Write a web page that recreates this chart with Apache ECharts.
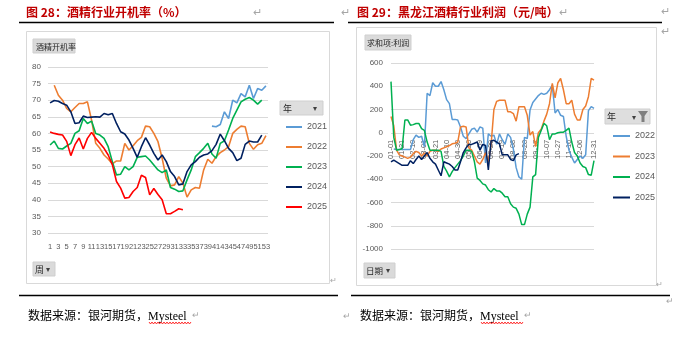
<!DOCTYPE html>
<html><head><meta charset="utf-8">
<script src="https://cdn.jsdelivr.net/npm/echarts@6/dist/echarts.min.js"></script>
<style>html,body{margin:0;padding:0;background:#fff;}#c{width:688px;height:343px;}</style>
</head><body><div id="c"></div>
<script>
// ---------- Left chart: 酒精行业开机率 (%) ----------
const weeks = ['1','2','3','4','5','6','7','8','9','10','11','12','13','14','15','16','17','18','19','20',
  '21','22','23','24','25','26','27','28','29','30','31','32','33','34','35','36','37','38','39','40',
  '41','42','43','44','45','46','47','48','49','50','51','52','53'];
const leftYears = ['2021','2022','2023','2024','2025'];
const rate2021 = [null,null,null,null,null,null,null,null,null,null,
  null,null,null,null,null,null,null,null,null,null,
  null,null,null,null,null,null,null,null,null,null,
  null,null,null,null,null,null,null,null,null,
  62.2,62.0,62.7,66.5,64.5,70.0,69.2,72.0,71.0,74.5,70.5,73.5,73.0,74.3];
const rate2022 = [null,74.5,71.5,70.0,67.5,66.5,67.8,69.0,69.0,69.5,
  64.0,57.0,55.5,53.5,52.3,50.8,51.7,51.7,57.0,55.0,
  56.3,57.8,58.8,62.2,62.0,60.0,57.5,52.5,46.5,44.2,
  44.5,47.0,45.0,40.8,43.0,43.7,43.5,49.0,52.2,51.0,
  53.0,54.2,55.0,56.0,60.0,61.2,62.2,62.0,57.0,55.2,
  56.6,57.0,59.3];
const rate2023 = [56.5,57.7,55.5,55.3,56.2,57.0,60.0,60.8,64.5,63.0,
  63.7,60.0,59.5,58.5,56.0,51.5,47.5,47.7,50.0,49.0,
  50.0,52.8,53.0,53.2,52.0,50.5,49.0,48.2,49.0,43.7,
  43.2,42.5,42.7,46.0,49.0,53.0,54.2,55.5,57.0,53.8,
  52.5,57.0,57.8,61.0,64.5,67.0,69.5,70.3,70.8,70.0,
  68.8,70.0,null];
const rate2024 = [69.2,69.9,69.7,69.0,68.5,66.5,63.0,63.2,65.2,64.8,
  64.9,65.0,64.9,66.0,65.6,66.0,63.0,60.5,59.8,58.0,
  55.5,52.8,56.0,58.7,56.5,54.0,52.0,53.5,51.5,48.5,
  47.0,44.5,44.8,48.5,50.5,51.5,52.8,53.5,53.8,54.8,
  56.7,59.8,57.8,55.5,54.2,51.8,52.5,56.7,57.7,57.4,
  57.4,59.5,null];
const rate2025 = [60.4,60.0,59.7,59.5,57.6,53.3,56.6,58.6,55.3,58.5,
  60.3,58.5,57.0,55.5,53.5,50.6,45.5,43.5,40.5,40.7,
  42.5,43.7,47.4,46.7,41.5,43.4,41.6,40.0,35.8,35.8,
  36.5,37.3,37.0,null,null,null,null,null,null,null,
  null,null,null,null,null,null,null,null,null,null,
  null,null,null];
const rateTicks = [30, 80, 5]; // min, max, step

// ---------- Right chart: 黑龙江酒精行业利润 (元/吨) ----------
const dates = ['01-01','01-06','01-11','01-16','01-21','01-26','01-31',
  '02-05','02-10','02-15','02-20','02-25',
  '03-01','03-06','03-11','03-16','03-21','03-26','03-31',
  '04-05','04-10','04-15','04-20','04-25','04-30',
  '05-05','05-10','05-15','05-20','05-25','05-30',
  '06-04','06-09','06-14','06-19','06-24','06-29',
  '07-04','07-09','07-14','07-19','07-24','07-29',
  '08-03','08-08','08-13','08-18','08-23','08-28',
  '09-02','09-07','09-12','09-17','09-22','09-27',
  '10-02','10-07','10-12','10-17','10-22','10-27',
  '11-01','11-06','11-11','11-16','11-21','11-26',
  '12-01','12-06','12-11','12-16','12-21','12-26','12-31'];
const rightYears = ['2022','2023','2024','2025'];
const profit2022 = [null,-140,-145,-145,-145,-145,-145,-145,-60,-20,
  -40,-30,-120,340,320,430,400,400,440,370,
  285,250,115,115,110,50,-30,-50,-10,30,
  40,5,50,40,-260,-10,-30,-20,-100,-10,
  -60,-100,-10,-40,-140,-300,-380,-400,-40,-50,
  195,260,290,320,340,330,340,370,410,170,
  200,150,140,-30,-150,-210,-260,-230,-200,-220,
  -190,190,225,210];
const profit2023 = [140,60,-150,-190,-200,-210,-220,-210,-180,-160,
  -170,-200,-175,-200,-160,-150,-150,-160,-140,-130,
  -120,-110,-95,-90,-80,50,55,50,-130,-150,
  -200,-250,-270,-230,-170,-250,-100,200,270,280,
  280,280,180,180,165,100,224,224,224,150,
  -20,10,-120,0,30,100,160,250,424,300,
  430,467,370,250,250,280,160,110,110,200,
  230,310,467,453];
const profit2024 = [440,-40,-150,-145,-135,110,110,65,70,80,
  80,35,20,-80,-150,-150,-150,-150,-160,-290,
  -330,-380,-335,-300,-270,-240,-200,-150,-150,-160,
  -250,-390,-410,-440,-450,-490,-510,-480,-500,-500,
  -520,-550,-550,-610,-640,-650,-700,-790,-790,-700,
  -640,-380,-360,-40,20,80,60,-60,-10,-10,
  0,5,5,20,40,-80,-170,-200,-260,-290,
  -300,-360,-365,-240];
const profit2025 = [-250,-235,-250,-265,-280,-280,-280,-240,-265,-230,
  -200,-230,-200,-170,-220,-250,-270,-320,-370,-250,
  -260,-270,-290,-320,-320,-250,-170,-130,-100,-100,
  -90,-80,-150,-100,-110,-320,-70,-65,-80,-95,
  -190,-190,-190,-230,-240,-190,-180,null,null,null,
  null,null,null,null,null,null,null,null,null,null,
  null,null,null,null,null,null,null,null,null,null,
  null,null,null,null];
const profitTicks = [-1000, 600, 200];

const leftColors = ['#5B9BD5','#ED7D31','#00B050','#002060','#FF0000'];
const rightColors = ['#5B9BD5','#ED7D31','#00B050','#002060'];
const leftData = [rate2021, rate2022, rate2023, rate2024, rate2025];
const rightData = [profit2022, profit2023, profit2024, profit2025];

const NUM = '"Liberation Sans", "Noto Sans CJK SC", sans-serif';
const NARROW = '"Liberation Sans Narrow", "Liberation Sans", sans-serif';
const CJK = '"Noto Sans CJK SC", "Liberation Sans", sans-serif';
const SERIF = '"Liberation Serif", "Noto Sans CJK SC", serif';
const AX = '#595959';
const GRIDC = '#D9D9D9';

function txt(x, y, text, font, fill, align) {
  return {type:'text', x:x, y:y, silent:true, z:10,
    style:{text:text, font:font, fill:fill, align:align||'left', textAlign:align||'left',
      verticalAlign:'middle', textVerticalAlign:'middle'}};
}
function rect(x, y, w, h, fill, stroke) {
  return {type:'rect', silent:true, z:5, shape:{x:x, y:y, width:w, height:h},
    style:{fill:fill||'none', stroke:stroke||null, lineWidth:1}};
}
function hline(x1, x2, y, color, w) {
  return {type:'line', silent:true, z:5, shape:{x1:x1, y1:y, x2:x2, y2:y},
    style:{stroke:color, lineWidth:w}};
}
function wavy(x1, x2, y) {
  const pts = [];
  let k = 0;
  for (let x = x1; x <= x2; x += 1.5) { pts.push([x, y + (k % 2 ? 1 : -1)]); k++; }
  return {type:'polyline', silent:true, z:10, shape:{points:pts}, style:{stroke:'#FF0000', lineWidth:0.8, fill:null}};
}
const RET = '#A6A6A6';
const deco = [
  // left panel
  txt(26, 12, '图 28：酒精行业开机率（%）', 'bold 12px ' + CJK, '#C00000'),
  txt(253, 13, '↵', '11px ' + NUM, RET),
  txt(341, 13, '↵', '11px ' + NUM, RET),
  hline(19, 334, 22.5, '#000', 1.5),
  rect(26.5, 31.5, 303, 252, 'none', GRIDC),
  rect(33, 39, 42, 14, '#DADADA', '#CFCFCF'),
  txt(36, 46.5, '酒精开机率', '8px ' + CJK, '#262626'),
  rect(33, 262, 22, 14, '#DADADA', '#CFCFCF'),
  txt(35, 269.5, '周', '9px ' + CJK, '#262626'),
  txt(46, 269.5, '▾', '8px ' + NUM, '#404040'),
  rect(280, 101, 43, 14, '#DEDEDE', '#CFCFCF'),
  txt(283, 108.5, '年', '9px ' + CJK, '#262626'),
  txt(313, 108.5, '▾', '8px ' + NUM, '#404040'),
  txt(330, 281, '↵', '8px ' + NUM, RET),
  hline(19, 338, 295.5, '#000', 1.5),
  txt(28, 317, '数据来源：银河期货，Mysteel', '12px ' + SERIF, '#000'),
  wavy(149, 191, 323),
  txt(192, 316, '↵', '9px ' + NUM, RET),
  txt(343, 317, '↵', '9px ' + NUM, RET),
  // right panel
  txt(357, 12, '图 29：黑龙江酒精行业利润（元/吨）', 'bold 12px ' + CJK, '#C00000'),
  txt(559, 13, '↵', '11px ' + NUM, RET),
  txt(661, 12, '↵', '11px ' + NUM, RET),
  txt(661, 32, '↵', '11px ' + NUM, RET),
  hline(348, 662, 22.5, '#000', 1.5),
  rect(356.5, 27.5, 300, 258, 'none', GRIDC),
  rect(365, 35, 46, 15, '#DADADA', '#CFCFCF'),
  txt(367, 43, '求和项:利润', '8px ' + CJK, '#262626'),
  rect(364, 263, 31, 15, '#DADADA', '#CFCFCF'),
  txt(366, 271, '日期', '8.5px ' + CJK, '#262626'),
  txt(386, 271, '▾', '8px ' + NUM, '#404040'),
  rect(605, 109, 45, 15, '#DEDEDE', '#CFCFCF'),
  txt(607, 117, '年', '9px ' + CJK, '#262626'),
  txt(632, 117.5, '▾', '8px ' + NUM, '#404040'),
  {type:'polygon', silent:true, z:10, shape:{points:[[638,111],[648,111],[644.5,116],[644.5,122],[641.5,122],[641.5,116]]},
    style:{fill:'#7F7F7F'}},
  txt(656, 285, '↵', '8px ' + NUM, RET),
  hline(351, 670, 295.5, '#000', 1.5),
  txt(360, 317, '数据来源：银河期货，Mysteel', '12px ' + SERIF, '#000'),
  wavy(481, 523, 323),
  txt(524, 316, '↵', '9px ' + NUM, RET),
  txt(666, 302, '↵', '9px ' + NUM, RET)
];

const series = [];
leftYears.forEach(function (y, k) {
  series.push({name:y, type:'line', xAxisIndex:0, yAxisIndex:0, data:leftData[k],
    symbol:'none', showSymbol:false, smooth:false, connectNulls:false,
    lineStyle:{color:leftColors[k], width:1.6}, itemStyle:{color:leftColors[k]}, z:2+k});
});
rightYears.forEach(function (y, k) {
  series.push({name:'R' + y, type:'line', xAxisIndex:1, yAxisIndex:1, data:rightData[k],
    symbol:'none', showSymbol:false, smooth:false, connectNulls:false,
    lineStyle:{color:rightColors[k], width:1.5}, itemStyle:{color:rightColors[k]}, z:2+k});
});

// right plot: 186 px for 1600 units; zero line sits 1000 units above the bottom
const rightGridH = 186;
const zeroOffset = -rightGridH * (0 - profitTicks[0]) / (profitTicks[1] - profitTicks[0]);

const chart = echarts.init(document.getElementById('c'), null, {renderer:'canvas'});
chart.setOption({
  animation:false,
  backgroundColor:'#fff',
  grid:[
    {left:48, top:67, width:220, height:166, containLabel:false},
    {left:391, top:63, width:203, height:rightGridH, containLabel:false}
  ],
  xAxis:[
    {type:'category', gridIndex:0, data:weeks, boundaryGap:true,
      axisLine:{show:false}, axisTick:{show:false},
      axisLabel:{interval:1, fontSize:7.5, color:AX, fontFamily:NARROW, margin:10,
        showMinLabel:true, showMaxLabel:true, hideOverlap:false}},
    {type:'category', gridIndex:1, data:dates, boundaryGap:false, position:'bottom', offset:zeroOffset,
      axisLine:{show:false, onZero:false}, axisTick:{show:false},
      axisLabel:{interval:3, rotate:90, fontSize:7.5, color:AX, fontFamily:NUM, margin:7,
        showMinLabel:true, showMaxLabel:true, hideOverlap:false}}
  ],
  yAxis:[
    {type:'value', gridIndex:0, min:rateTicks[0], max:rateTicks[1], interval:rateTicks[2],
      axisLine:{show:false}, axisTick:{show:false},
      axisLabel:{fontSize:8, color:AX, fontFamily:NUM, margin:7},
      splitLine:{lineStyle:{color:GRIDC, width:1}}},
    {type:'value', gridIndex:1, min:profitTicks[0], max:profitTicks[1], interval:profitTicks[2],
      axisLine:{show:false}, axisTick:{show:false},
      axisLabel:{fontSize:8, color:AX, fontFamily:NUM, margin:8,
        formatter:function (v) { return String(v); }},
      splitLine:{lineStyle:{color:GRIDC, width:1}}}
  ],
  legend:[
    {orient:'vertical', left:281, top:116, icon:'rect', itemWidth:16, itemHeight:2, itemGap:8,
      data:leftYears, selectedMode:false,
      textStyle:{fontSize:9, color:AX, fontFamily:NUM, lineHeight:12}},
    {orient:'vertical', left:608, top:125, icon:'rect', itemWidth:17, itemHeight:2, itemGap:8.5,
      data:rightYears.map(function (y) { return 'R' + y; }), selectedMode:false,
      formatter:function (n) { return n.slice(1); },
      textStyle:{fontSize:9, color:AX, fontFamily:NUM, lineHeight:12}}
  ],
  graphic:{elements:deco},
  series:series
});
</script>
</body></html>
